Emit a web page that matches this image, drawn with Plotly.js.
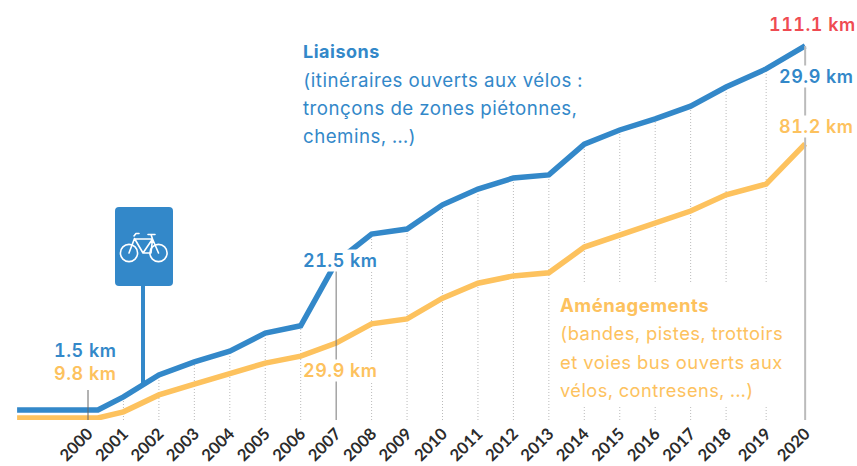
<!DOCTYPE html>
<html><head><meta charset="utf-8">
<script src="https://cdn.plot.ly/plotly-3.0.1.min.js"></script>
<style>html,body{margin:0;padding:0;background:#fff}#c{width:857px;height:466px}
.annotation-text{font-variant-numeric:tabular-nums;font-feature-settings:"tnum" 1;letter-spacing:.5px}
</style></head>
<body><div id="c"></div>
<script>
const years = [2000,2001,2002,2003,2004,2005,2006,2007,2008,2009,2010,2011,2012,2013,2014,2015,2016,2017,2018,2019,2020];
const tickPositions = [2000,2001,2002,2003,2004,2005,2006,2007,2008,2009,2010,2011,2012,2013,2014,2015,2016,2017,2018,2019.13,2020.23];
const lineStart = [1998,2000.28];
const liaisons = [15.3,21.0,24.4,27.2,31.9,33.8,50.4,57.7,59.0,65.3,69.4,72.3,73.1,81.1,84.8,87.7,91.0,96.0,100.7,106.7];
const liaisonsStart = [11.9,11.9];
const amenagements = [11.4,15.8,18.6,21.3,24.1,25.9,29.3,34.3,35.6,41.0,44.9,46.8,47.6,54.3,57.4,60.6,63.7,67.9,70.7,81.2];
const amenagementsStart = [9.8,9.8];

const BLUE='#3388c9', ORANGE='#fdc25e', RED='#ef4b52', DARK='#2b2b2b', FONT='Inter, sans-serif';
const W=857, H=466;
const xs = lineStart.concat(tickPositions.slice(1));
const yB = liaisonsStart.concat(liaisons);
const yO = amenagementsStart.concat(amenagements);

const traces=[
 {x:xs,y:yO,mode:'lines',line:{color:ORANGE,width:5.5},hoverinfo:'skip',cliponaxis:false},
 {x:xs,y:yB,mode:'lines',line:{color:BLUE,width:5.5},hoverinfo:'skip',cliponaxis:false}
];
const Y0=9.27;
const shapes=[];
tickPositions.forEach((t,i)=>{
  if(i===0||i===7||i===20) return;
  shapes.push({type:'line',layer:'below',xref:'x',yref:'y',x0:t,x1:t,y0:Y0,y1:liaisons[i-1],line:{color:'#bbbbbb',width:1,dash:'1px,2px'}});
});
shapes.push({type:'line',layer:'above',xref:'x',yref:'paper',x0:2000,x1:2000,y0:0,y1:(420-390)/420,line:{color:'#666',width:1}});
shapes.push({type:'line',layer:'above',xref:'x',yref:'y',x0:2007,x1:2007,y0:Y0,y1:liaisons[6],line:{color:'#777',width:1}});
shapes.push({type:'line',layer:'above',xref:'x',yref:'y',x0:tickPositions[20],x1:tickPositions[20],y0:Y0,y1:liaisons[19],line:{color:'#bbbbbb',width:2}});
shapes.push({type:'line',layer:'below',xref:'paper',yref:'paper',x0:143/W,x1:143/W,y0:(420-385)/420,y1:(420-285)/420,line:{color:BLUE,width:4}});
shapes.push({type:'rect',layer:'above',xref:'paper',yref:'paper',x0:555/W,x1:795/W,y0:(420-405)/420,y1:(420-282)/420,fillcolor:'#fff',line:{width:0}});

const sign = `<svg xmlns="http://www.w3.org/2000/svg" width="58" height="79" viewBox="0 0 58 79">
<rect x="0" y="0" width="58" height="79" rx="4" fill="${BLUE}"/>
<g fill="none" stroke="#fff" stroke-width="1.6" stroke-linecap="round" stroke-linejoin="round">
<circle cx="14" cy="46" r="8.6"/><circle cx="43.5" cy="46" r="8.6"/>
<path d="M14 46 L19.5 31.5 L28 46 L37.5 32 L43.5 46 M28 46 H36 L37.5 32 M19.5 32 H37.5 M19 29 L21 26.5 H24 M33 27.5 H40 M36 27.5 L37.5 32"/>
</g></svg>`;

function note(x,y,text,color,size,weight,extra){
  return Object.assign({xref:'paper',yref:'paper',x:x/W,y:(420-y)/420,xanchor:'left',yanchor:'middle',showarrow:false,text:text,
    font:{family:FONT,size:size,color:color,weight:weight},borderpad:0},extra||{});
}
const annos=[
 note(768,24,'111.1 km',RED,18,600),
 note(778,76,'29.9 km',BLUE,18,600,{bgcolor:'#fff'}),
 note(778,126,'81.2 km',ORANGE,18,600,{bgcolor:'#fff'}),
 note(53,350,'1.5 km',BLUE,18,600),
 note(53,373,'9.8 km',ORANGE,18,600),
 note(302,260,'21.5 km',BLUE,18,600,{bgcolor:'#fff'}),
 note(302,370,'29.9 km',ORANGE,18,600,{bgcolor:'#fff'}),
 note(302,51,'Liaisons',BLUE,18,700),
 note(302,80,'(itinéraires ouverts aux vélos :',BLUE,18.7,400),
 note(302,109,'tronçons de zones piétonnes,',BLUE,18.7,400),
 note(302,137,'chemins, ...)',BLUE,18.7,400),
 note(559,305,'Aménagements',ORANGE,18.5,700),
 note(559,333,'(bandes, pistes, trottoirs',ORANGE,18.4,400),
 note(559,362,'et voies bus ouverts aux',ORANGE,18.4,400),
 note(559,390,'vélos, contresens, ...)',ORANGE,18.2,400)
];
Plotly.newPlot('c',traces,{
 width:W,height:H,showlegend:false,paper_bgcolor:'#fff',plot_bgcolor:'#fff',
 margin:{l:0,r:0,t:0,b:46,pad:0},
 xaxis:{type:'linear',range:[2000-88/35.45,2000+769/35.45],tickmode:'array',tickvals:tickPositions,ticktext:years.map(String),
   tickangle:-45,showgrid:false,zeroline:false,showline:false,ticks:'',tickfont:{family:'Lato, sans-serif',size:16.5,color:DARK,weight:700},automargin:false},
 yaxis:{range:[Y0,118.65],visible:false,showgrid:false,zeroline:false,fixedrange:true},
 shapes:shapes,annotations:annos,
 images:[{source:'data:image/svg+xml;charset=utf-8,'+encodeURIComponent(sign),xref:'paper',yref:'paper',x:115/W,y:(420-207)/420,sizex:58/W,sizey:79/420,sizing:'stretch',xanchor:'left',yanchor:'top',layer:'above'}]
},{displayModeBar:false,staticPlot:true});
</script></body></html>
